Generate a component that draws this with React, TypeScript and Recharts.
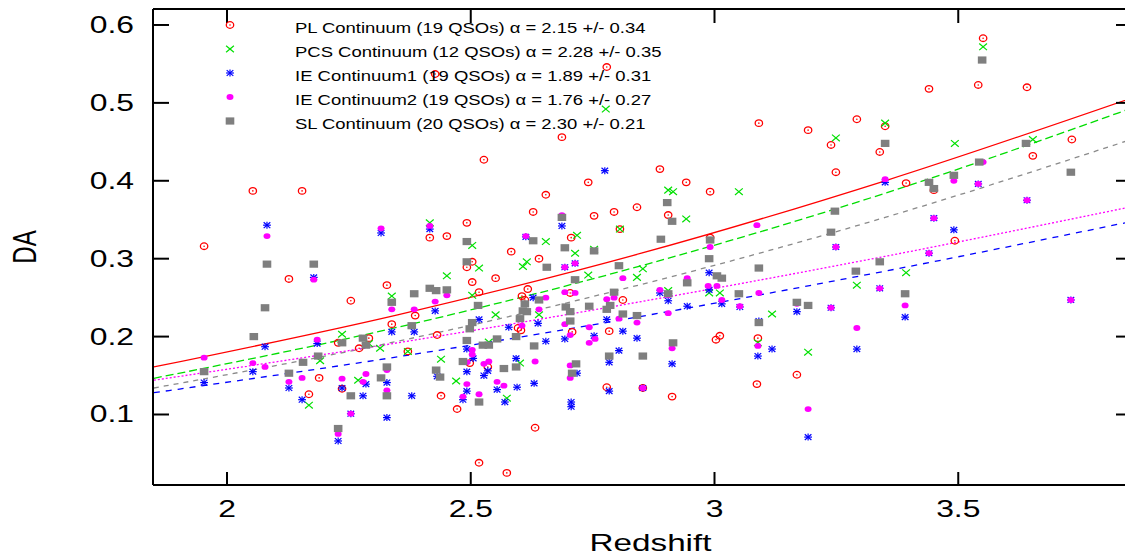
import React from 'react';
import { ComposedChart, Scatter, Line, XAxis, YAxis, Legend } from 'recharts';

// scatter points [redshift, DA]
const plPoints: [number, number][] = [
  [1.953, 0.316], [2.053, 0.387], [2.154, 0.387], [2.127, 0.274], [2.254, 0.246], [2.328, 0.266], [2.338, 0.216],
  [2.228, 0.192], [2.291, 0.198], [2.271, 0.185], [2.168, 0.126], [2.189, 0.147], [2.236, 0.133], [2.371, 0.181],
  [2.386, 0.227], [2.431, 0.202], [2.416, 0.327], [2.451, 0.329], [2.492, 0.346], [2.503, 0.296], [2.492, 0.289],
  [2.551, 0.275], [2.503, 0.270], [2.517, 0.257], [2.535, 0.161], [2.498, 0.166], [2.439, 0.124], [2.472, 0.107],
  [2.527, 0.427], [2.427, 0.537], [2.687, 0.456], [2.779, 0.546], [2.583, 0.309], [2.640, 0.300], [2.617, 0.261],
  [2.605, 0.252], [2.611, 0.247], [2.706, 0.327], [2.704, 0.256], [2.654, 0.382], [2.628, 0.360], [2.741, 0.398],
  [2.753, 0.355], [2.794, 0.360], [2.841, 0.366], [2.888, 0.415], [2.942, 0.398], [2.991, 0.386], [2.905, 0.356],
  [2.806, 0.338], [2.812, 0.247], [2.784, 0.207], [2.708, 0.206], [2.597, 0.211], [2.603, 0.208], [2.779, 0.135],
  [2.853, 0.134], [2.913, 0.123], [2.632, 0.083], [2.517, 0.038], [2.574, 0.025], [2.991, 0.327], [3.003, 0.196],
  [3.011, 0.201], [3.089, 0.198], [3.087, 0.139], [3.169, 0.151], [3.091, 0.474], [3.192, 0.465], [3.292, 0.479],
  [3.350, 0.470], [3.239, 0.446], [3.339, 0.437], [3.249, 0.411], [3.393, 0.397], [3.450, 0.388], [3.493, 0.323],
  [3.440, 0.518], [3.541, 0.523], [3.551, 0.583], [3.641, 0.520], [3.653, 0.432], [3.733, 0.453],
];

const pcsPoints: [number, number][] = [
  [2.777, 0.492], [3.551, 0.572], [2.338, 0.252], [2.236, 0.203], [2.269, 0.144], [2.314, 0.185], [2.168, 0.112],
  [2.191, 0.169], [2.371, 0.181], [2.416, 0.346], [2.503, 0.317], [2.517, 0.288], [2.451, 0.278], [2.503, 0.253],
  [2.551, 0.228], [2.537, 0.193], [2.439, 0.171], [2.470, 0.143], [2.601, 0.166], [2.574, 0.121], [2.607, 0.290],
  [2.615, 0.296], [2.654, 0.322], [2.718, 0.330], [2.714, 0.307], [2.753, 0.312], [2.741, 0.279], [2.806, 0.338],
  [2.640, 0.228], [2.853, 0.287], [2.841, 0.276], [2.905, 0.388], [2.915, 0.386], [2.942, 0.351], [3.050, 0.386],
  [2.905, 0.259], [2.989, 0.256], [3.011, 0.256], [3.118, 0.229], [3.089, 0.192], [3.192, 0.180], [3.249, 0.455],
  [3.350, 0.474], [3.493, 0.448], [3.653, 0.453], [3.292, 0.266], [3.393, 0.282], [2.291, 0.191],
];

const ie1Points: [number, number][] = [
  [2.082, 0.343], [2.316, 0.333], [2.178, 0.276], [2.078, 0.187], [1.953, 0.141], [2.053, 0.155], [2.127, 0.134],
  [2.154, 0.119], [2.185, 0.191], [2.236, 0.134], [2.228, 0.066], [2.254, 0.101], [2.279, 0.124], [2.285, 0.139],
  [2.328, 0.141], [2.328, 0.096], [2.338, 0.206], [2.384, 0.206], [2.379, 0.124], [2.416, 0.338], [2.427, 0.233],
  [2.431, 0.149], [2.484, 0.119], [2.492, 0.184], [2.492, 0.155], [2.492, 0.130], [2.505, 0.172], [2.517, 0.222],
  [2.535, 0.156], [2.527, 0.150], [2.554, 0.132], [2.570, 0.116], [2.578, 0.212], [2.593, 0.172], [2.595, 0.135],
  [2.613, 0.328], [2.628, 0.250], [2.638, 0.217], [2.630, 0.140], [2.654, 0.194], [2.693, 0.289], [2.693, 0.197],
  [2.714, 0.294], [2.687, 0.342], [2.706, 0.116], [2.706, 0.110], [2.718, 0.153], [2.753, 0.201], [2.775, 0.413],
  [2.779, 0.222], [2.784, 0.167], [2.784, 0.130], [2.804, 0.182], [2.812, 0.207], [2.841, 0.198], [2.888, 0.256],
  [2.905, 0.246], [2.913, 0.165], [2.853, 0.134], [2.944, 0.239], [2.989, 0.282], [2.989, 0.260], [3.015, 0.242],
  [3.052, 0.238], [3.091, 0.220], [3.089, 0.175], [3.118, 0.184], [3.169, 0.232], [3.192, 0.071], [3.239, 0.237],
  [3.249, 0.315], [3.292, 0.184], [3.339, 0.262], [3.350, 0.398], [3.391, 0.225], [3.440, 0.307], [3.450, 0.352],
  [3.491, 0.337], [3.541, 0.396], [3.641, 0.375], [3.731, 0.247],
];

const ie2Points: [number, number][] = [
  [2.082, 0.329], [2.316, 0.339], [2.178, 0.273], [1.953, 0.173], [2.053, 0.166], [2.078, 0.161], [2.127, 0.142],
  [2.154, 0.147], [2.185, 0.196], [2.236, 0.146], [2.228, 0.075], [2.254, 0.101], [2.279, 0.142], [2.285, 0.152],
  [2.328, 0.157], [2.328, 0.131], [2.338, 0.235], [2.384, 0.235], [2.416, 0.342], [2.427, 0.245], [2.451, 0.253],
  [2.484, 0.123], [2.492, 0.139], [2.492, 0.167], [2.503, 0.183], [2.503, 0.177], [2.517, 0.126], [2.527, 0.165],
  [2.537, 0.168], [2.554, 0.142], [2.568, 0.137], [2.605, 0.214], [2.613, 0.329], [2.632, 0.168], [2.640, 0.235],
  [2.654, 0.250], [2.693, 0.257], [2.714, 0.256], [2.693, 0.216], [2.687, 0.356], [2.704, 0.202], [2.704, 0.163],
  [2.704, 0.147], [2.714, 0.294], [2.693, 0.289], [2.743, 0.212], [2.743, 0.192], [2.755, 0.197], [2.779, 0.248],
  [2.794, 0.250], [2.804, 0.223], [2.812, 0.275], [2.841, 0.218], [2.853, 0.134], [2.888, 0.260], [2.905, 0.253],
  [2.905, 0.230], [2.913, 0.185], [2.944, 0.275], [2.991, 0.315], [2.987, 0.265], [3.005, 0.265], [3.015, 0.247],
  [3.052, 0.239], [3.091, 0.256], [3.087, 0.343], [3.089, 0.188], [3.169, 0.242], [3.192, 0.107], [3.239, 0.237],
  [3.249, 0.315], [3.292, 0.211], [3.339, 0.262], [3.350, 0.402], [3.391, 0.240], [3.440, 0.307], [3.450, 0.352],
  [3.491, 0.400], [3.541, 0.396], [3.551, 0.424], [3.641, 0.375], [3.731, 0.247],
];

const slPoints: [number, number][] = [
  [2.082, 0.293], [2.178, 0.293], [2.078, 0.237], [2.055, 0.200], [1.953, 0.155], [2.156, 0.167], [2.127, 0.153],
  [2.187, 0.175], [2.236, 0.192], [2.279, 0.198], [2.285, 0.189], [2.254, 0.124], [2.328, 0.124], [2.328, 0.161],
  [2.338, 0.244], [2.316, 0.147], [2.228, 0.082], [2.379, 0.214], [2.384, 0.255], [2.416, 0.262], [2.429, 0.259],
  [2.451, 0.260], [2.429, 0.157], [2.437, 0.148], [2.484, 0.168], [2.492, 0.322], [2.492, 0.296], [2.515, 0.240],
  [2.503, 0.218], [2.498, 0.210], [2.492, 0.195], [2.525, 0.189], [2.537, 0.189], [2.554, 0.197], [2.517, 0.116],
  [2.568, 0.159], [2.593, 0.161], [2.593, 0.200], [2.601, 0.223], [2.607, 0.233], [2.615, 0.232], [2.611, 0.242],
  [2.640, 0.247], [2.630, 0.188], [2.628, 0.323], [2.656, 0.289], [2.693, 0.314], [2.687, 0.353], [2.695, 0.238],
  [2.704, 0.232], [2.704, 0.220], [2.714, 0.273], [2.716, 0.165], [2.708, 0.153], [2.743, 0.239], [2.753, 0.310],
  [2.779, 0.235], [2.786, 0.240], [2.784, 0.175], [2.794, 0.257], [2.804, 0.291], [2.812, 0.229], [2.841, 0.227],
  [2.853, 0.175], [2.890, 0.325], [2.903, 0.372], [2.913, 0.348], [2.905, 0.255], [2.915, 0.192], [2.944, 0.269],
  [2.989, 0.300], [2.991, 0.324], [3.005, 0.278], [3.015, 0.275], [3.050, 0.255], [3.091, 0.288], [3.091, 0.218],
  [3.169, 0.244], [3.192, 0.240], [3.239, 0.334], [3.247, 0.361], [3.290, 0.284], [3.339, 0.296], [3.350, 0.448],
  [3.391, 0.255], [3.440, 0.398], [3.450, 0.390], [3.491, 0.407], [3.543, 0.424], [3.549, 0.555], [3.639, 0.448],
  [3.731, 0.411],
];

// fitted curves
const fitX = [1.85, 2.35, 2.85, 3.35, 3.85];
const plFit = [0.161, 0.228, 0.307, 0.400, 0.505];
const pcsFit = [0.1465, 0.212, 0.291, 0.384, 0.492];
const slFit = [0.134, 0.194, 0.267, 0.353, 0.452];
const ie2Fit = [0.144, 0.192, 0.245, 0.303, 0.366];
const ie1Fit = [0.128, 0.174, 0.226, 0.284, 0.347];

const legendLabels = [
  'PL Continuum (19 QSOs) \u03b1 = 2.15 +/- 0.34',
  'PCS Continuum (12 QSOs) \u03b1 = 2.28 +/- 0.35',
  'IE Continuum1 (19 QSOs) \u03b1 = 1.89 +/- 0.31',
  'IE Continuum2 (19 QSOs) \u03b1 = 1.76 +/- 0.27',
  'SL Continuum (20 QSOs) \u03b1 = 2.30 +/- 0.21',
];

const xTicks = [2, 2.5, 3, 3.5];
const yTicks = [0.1, 0.2, 0.3, 0.4, 0.5, 0.6];

const FONT = '"Liberation Sans", Arial, Helvetica, sans-serif';
const STRETCH = 1.385;
const RED = '#ff0000';
const GREEN = '#00e000';
const BLUE = '#0000ff';
const MAGENTA = '#ff00ff';
const GRAY = '#7f7f7f';

const toXY = (pts: [number, number][]) => pts.map(([x, y]) => ({ x, y }));
const toFit = (ys: number[]) => ys.map((y, i) => ({ x: fitX[i], y }));

// marker glyphs
const plMark = (cx: number, cy: number) => (
  <g>
    <ellipse cx={cx} cy={cy} rx={3.7} ry={3.3} fill="none" stroke={RED} strokeWidth={1.3} />
    <circle cx={cx} cy={cy} r={0.8} fill={RED} />
  </g>
);
const pcsMark = (cx: number, cy: number) => (
  <g stroke={GREEN} strokeWidth={1.2}>
    <line x1={cx - 3.9} y1={cy - 3.3} x2={cx + 3.9} y2={cy + 3.3} />
    <line x1={cx - 3.9} y1={cy + 3.3} x2={cx + 3.9} y2={cy - 3.3} />
  </g>
);
const ie1Mark = (cx: number, cy: number) => (
  <g stroke={BLUE} strokeWidth={1.2}>
    <line x1={cx - 3.9} y1={cy} x2={cx + 3.9} y2={cy} />
    <line x1={cx} y1={cy - 3.5} x2={cx} y2={cy + 3.5} />
    <line x1={cx - 3.3} y1={cy - 2.9} x2={cx + 3.3} y2={cy + 2.9} />
    <line x1={cx - 3.3} y1={cy + 2.9} x2={cx + 3.3} y2={cy - 2.9} />
  </g>
);
const ie2Mark = (cx: number, cy: number) => <ellipse cx={cx} cy={cy} rx={3.5} ry={2.9} fill={MAGENTA} />;
const slMark = (cx: number, cy: number) => <rect x={cx - 4.3} y={cy - 3.6} width={8.6} height={7.2} fill={GRAY} />;

const marks = [plMark, pcsMark, ie1Mark, ie2Mark, slMark];
const shapeOf = (fn: (cx: number, cy: number) => React.ReactElement) => (p: any) => fn(p.cx, p.cy);

const LeftTick = ({ x, y, payload }: any) => (
  <g>
    <line x1={x} y1={y} x2={x + 16} y2={y} stroke="#000" strokeWidth={2} />
    <text transform={`translate(${x - 19},${y + 8}) scale(${STRETCH},1)`} textAnchor="end"
      fontSize={23} fontFamily={FONT} fill="#000">{Number(payload.value).toFixed(1)}</text>
  </g>
);
const BottomTick = ({ x, y, payload }: any) => (
  <g>
    <line x1={x} y1={y} x2={x} y2={y - 13} stroke="#000" strokeWidth={2} />
    <text transform={`translate(${x},${y + 32}) scale(${STRETCH},1)`} textAnchor="middle"
      fontSize={23} fontFamily={FONT} fill="#000">{String(payload.value)}</text>
  </g>
);
const TopTick = ({ x, y }: any) => <line x1={x} y1={y} x2={x} y2={y + 14} stroke="#000" strokeWidth={2} />;
const RightTick = ({ x, y }: any) => <line x1={x} y1={y} x2={x - 10} y2={y} stroke="#000" strokeWidth={2} />;

const XTitle = ({ viewBox }: any) => (
  <text transform={`translate(${viewBox.x + viewBox.width / 2 + 11},${viewBox.y + viewBox.height - 4}) scale(${STRETCH},1)`}
    textAnchor="middle" fontSize={24} fontFamily={FONT} fill="#000">Redshift</text>
);
const YTitle = ({ viewBox }: any) => (
  <text transform={`translate(${viewBox.x + 36},${viewBox.y + viewBox.height / 2}) scale(${STRETCH},1) rotate(-90)`}
    textAnchor="middle" fontSize={24} fontFamily={FONT} fill="#000">DA</text>
);

const LegendBox = () => (
  <div style={{ position: 'relative', width: 1125, height: 140, fontFamily: FONT, pointerEvents: 'none' }}>
    {legendLabels.map((label, i) => (
      <React.Fragment key={label}>
        <svg width={16} height={16} style={{ position: 'absolute', left: 222, top: 17 + i * 24 }}>
          {marks[i](8, 8)}
        </svg>
        <div style={{
          position: 'absolute', left: 295, top: 20 + i * 24, fontSize: 15, lineHeight: '16px',
          whiteSpace: 'nowrap', color: '#000', transform: 'scaleX(1.23)', transformOrigin: '0 0',
        }}>{label}</div>
      </React.Fragment>
    ))}
  </div>
);

const series = [
  { name: 'PL', pts: plPoints, mark: plMark },
  { name: 'PCS', pts: pcsPoints, mark: pcsMark },
  { name: 'IE1', pts: ie1Points, mark: ie1Mark },
  { name: 'IE2', pts: ie2Points, mark: ie2Mark },
  { name: 'SL', pts: slPoints, mark: slMark },
];

const fits = [
  { name: 'plFit', ys: plFit, color: RED, dash: undefined },
  { name: 'pcsFit', ys: pcsFit, color: '#00dd00', dash: '8 4' },
  { name: 'slFit', ys: slFit, color: '#8a8a8a', dash: '5 5' },
  { name: 'ie2Fit', ys: ie2Fit, color: MAGENTA, dash: '2 2' },
  { name: 'ie1Fit', ys: ie1Fit, color: BLUE, dash: '6 6' },
];

export default function App() {
  return (
    <div style={{ position: 'absolute', left: 0, top: 0, width: 1125, height: 555, overflow: 'hidden', background: '#fff' }}>
      <ComposedChart width={1130} height={555} margin={{ top: 0, right: 0, bottom: 0, left: 0 }}>
        <XAxis xAxisId="b" dataKey="x" type="number" domain={[1.8482, 3.8441]} allowDataOverflow ticks={xTicks}
          orientation="bottom" height={70} tickSize={0} tickMargin={0} tickLine={false}
          axisLine={{ stroke: '#000', strokeWidth: 2 }} tick={<BottomTick />} label={<XTitle />} />
        <XAxis xAxisId="t" dataKey="x" type="number" domain={[1.8482, 3.8441]} allowDataOverflow ticks={xTicks}
          orientation="top" height={9} tickSize={0} tickMargin={0} tickLine={false}
          axisLine={{ stroke: '#000', strokeWidth: 2 }} tick={<TopTick />} />
        <YAxis yAxisId="l" dataKey="y" type="number" domain={[0.0095, 0.6205]} allowDataOverflow ticks={yTicks}
          orientation="left" width={153} tickSize={0} tickMargin={0} tickLine={false}
          axisLine={{ stroke: '#000', strokeWidth: 2 }} tick={<LeftTick />} label={<YTitle />} />
        <YAxis yAxisId="r" dataKey="y" type="number" domain={[0.0095, 0.6205]} allowDataOverflow ticks={yTicks}
          orientation="right" width={4} tickSize={0} tickMargin={0} tickLine={false}
          axisLine={{ stroke: '#000', strokeWidth: 2 }} tick={<RightTick />} />
        <Legend layout="vertical" align="center" verticalAlign="middle" content={<LegendBox />}
          wrapperStyle={{ left: 0, top: 0, width: 1125, height: 140 }} />
        {series.map(s => (
          <Scatter key={s.name} name={s.name} data={toXY(s.pts)} xAxisId="b" yAxisId="l" dataKey="y"
            shape={shapeOf(s.mark)} isAnimationActive={false} legendType="none" />
        ))}
        {fits.map(f => (
          <Line key={f.name} data={toFit(f.ys)} xAxisId="b" yAxisId="l" dataKey="y" type="monotone"
            stroke={f.color} strokeWidth={1.3} strokeDasharray={f.dash} dot={false} activeDot={false}
            isAnimationActive={false} legendType="none" />
        ))}
      </ComposedChart>
    </div>
  );
}
